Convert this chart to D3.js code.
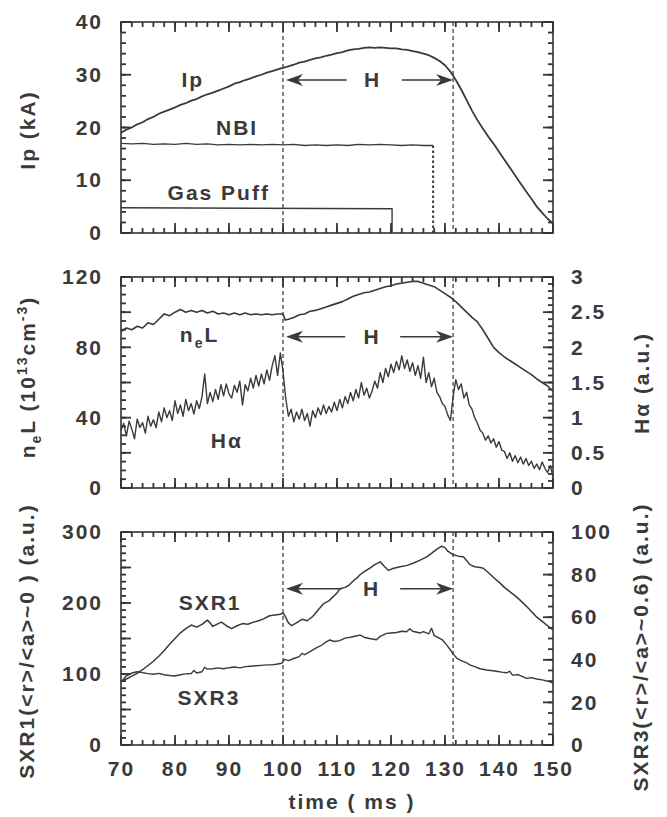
<!DOCTYPE html>
<html>
<head>
<meta charset="utf-8">
<script src="https://cdn.jsdelivr.net/npm/d3@7"></script>
<style>
body { margin: 0; background: #fff; }
text { font-family: "Liberation Sans", Arial, Helvetica, sans-serif; font-weight: bold;
       font-size: 21px; fill: #3a3a3a; letter-spacing: 2px; }
</style>
</head>
<body>
<svg id="viz" width="667" height="817"></svg>
<script>
// ---- data ----
var xTicks = [70, 80, 90, 100, 110, 120, 130, 140, 150];
var hMode = [100, 131.5];               // dashed lines, H-mode window

// panel 1 : Ip, NBI, gas puff (kA)
var ipT0 = 70, ipDt = 1;
var ipVal = [19.0,19.6,20.0,20.6,21.0,21.6,22.0,22.6,23.0,23.4,
             23.8,24.3,24.6,25.1,25.4,25.9,26.3,26.6,27.0,27.4,
             27.8,28.3,28.6,29.0,29.3,29.7,30.0,30.4,30.7,31.0,
             31.3,31.6,31.9,32.3,32.5,32.8,33.1,33.3,33.6,33.8,
             34.1,34.3,34.6,34.8,34.9,35.1,35.2,35.1,35.2,35.1,
             35.0,35.0,34.8,34.7,34.5,34.3,34.0,33.7,33.2,32.6,
             31.8,30.6,29.0,27.2,25.2,23.2,21.4,19.8,18.3,16.9,
             15.4,13.9,12.4,10.9,9.4,7.9,6.5,5.0,3.8,2.7,1.8];
var nbiTime = [70,72,74,76,78,80,82,84,86,88,90,92,94,96,98,100,102,104,106,108,110,112,114,116,118,120,122,124,126,127.8];
var nbiVal  = [17.0,16.9,17.0,16.8,16.9,16.8,17.0,16.8,16.9,16.7,16.8,16.7,16.8,16.7,16.8,16.7,16.8,16.6,16.7,16.6,16.7,16.6,16.8,16.7,16.8,16.7,16.6,16.7,16.6,16.6];
var gasTime = [70, 120.2];
var gasVal  = [4.8, 4.6];

// panel 2 : line density (left) and H-alpha (right)
var nlTime = [70,71,72,73,74,75,76,77,78,79,80,81,82,83,84,85,86,87,88,89,90,91,92,93,94,95,96,97,98,99,100,100.4,
              101,102,103,104,105,106,107,108,109,110,111,112,113,114,115,116,117,118,119,120,
              121,122,123,124,125,126,127,128,129,130,131,132,133,134,135,136,137,138,139,140,
              141,142,143,144,145,146,147,148,149,150];
var nlVal = [89,91,90,92,91,94,93,96,99,98,
             100,101.5,100,101,100,101,99.5,100.5,99,99.5,
             98.5,99.5,98.5,99.5,98.5,99,98.5,99,98.5,99,
             99,95.5,
             96,97,98.5,99,100.5,101,102,103,104,105,
             106,107.5,109,110,111,111.5,112.5,113.5,114.5,115,
             116,116.5,117,117.5,117.5,116.5,115.5,114.5,112.5,110.5,
             108.5,106,103,100,97,94.5,90,85,80,77,
             74.5,72.5,70.5,68.5,66.5,64.5,62,60,58,55];
var haT0 = 70, haDt = 0.5;
var haVal = [0.82,0.92,0.74,0.95,0.84,0.70,0.98,0.86,0.93,0.78,
             1.02,0.88,0.97,0.86,1.08,0.94,1.14,1.00,1.10,0.96,
             1.24,1.06,1.18,1.02,1.26,1.10,1.20,1.05,1.24,1.13,
             1.30,1.62,1.20,1.36,1.23,1.40,1.26,1.47,1.31,1.48,
             1.34,1.28,1.46,1.36,1.52,1.18,1.47,1.38,1.56,1.42,
             1.60,1.45,1.62,1.48,1.68,1.53,1.74,1.88,1.60,1.92,
             1.66,1.28,1.02,1.12,0.94,1.08,0.98,1.12,0.96,1.06,
             0.88,1.10,1.00,1.14,1.04,1.18,1.06,1.16,1.08,1.22,
             1.10,1.26,1.14,1.30,1.20,1.36,1.24,1.40,1.28,1.50,
             1.32,1.42,1.28,1.38,1.52,1.42,1.64,1.50,1.70,1.58,
             1.76,1.64,1.80,1.68,1.88,1.70,1.82,1.66,1.78,1.60,
             1.74,1.56,1.86,1.50,1.64,1.44,1.56,1.36,1.30,1.20,
             1.16,1.04,0.96,1.30,1.54,1.40,1.48,1.28,1.36,1.18,
             1.12,1.00,0.92,0.82,0.78,0.68,0.74,0.64,0.70,0.58,
             0.66,0.54,0.52,0.42,0.50,0.38,0.46,0.36,0.44,0.34,
             0.42,0.32,0.38,0.28,0.34,0.26,0.37,0.28,0.22,0.32,
             0.16];

// panel 3 : soft X-ray (SXR1 left axis, SXR3 right axis)
var sx1Time = [70,71,72,73,74,75,76,77,78,79,80,81,82,83,84,85,86,86.5,87,88,88.6,89.5,90.5,91.5,92.5,93.5,94.5,95.5,96.5,97.5,98.5,99.5,100,
               100.5,101,101.6,102.5,103.5,104.5,105.5,106.5,107.5,108.5,109.3,110,110.5,111.5,112.2,113,113.8,114.3,115,116.1,117,118,118.7,119.5,120.5,
               121.7,123,124.1,125.3,126.6,127.5,128.5,129.4,130,130.5,131.5,132.5,133.4,134,134.6,135.5,136.5,137.1,138,139,140.2,141,142,143,143.9,
               145,146,146.4,147,148,149,150];
var sx1Val = [90,93,97,101,106,112,118,125,133,142,150,158,164,169,166,170,176,172,167,171,173,168,164,168,171,170,173,175,178,182,183,184,186,
              180,172,168,172,177,175,181,190,199,203,209,214,220,222,225,231,236,240,244,249,254,258,252,246,249,
              251,253,256,260,265,270,276,280,278,273,268,266,265,260,254,251,250,249,243,236,228,222,216,210,204,
              196,188,185,180,174,168,162];
var sx3Time = [70,70.5,71,72,73,74,75,76,77,78,79,80,81,82,83,83.5,84,85,85.5,86,87,88,89,90,91,92,93,94,95,96,97,98,99,99.8,
               100.3,101,102,103,103.5,104,105,106,107,108,108.7,109.5,110.5,111.5,112.5,113.5,114.3,115,116,117.3,118,119.2,120,
               121,122,122.9,123.5,124,125.4,126,127,127.5,128,128.5,129.5,130.3,131,131.5,132.2,133,134,134.6,135.5,136.5,137.7,
               138.5,139.5,140.5,141.4,142,142.5,143.5,144.5,145.1,146,147,148,149.4,150];
var sx3Val = [29.5,31,32.5,33.8,34.4,34,33.5,33.2,33.6,33,32.6,32.4,33,33.4,33.6,35,33.8,34.4,36.5,35.6,35.8,36.2,35.8,36.3,36.6,36.2,36.8,37,37.2,37.4,37.6,37.6,38,38.4,
              40.2,39.6,40.6,41.5,43,42.4,43.8,45.4,46.6,48.4,49.3,48.6,49,50.2,50.6,51.2,51.6,50.6,50,49.4,51,52.4,52.6,
              52.8,53.4,53.2,54.6,53.4,52.6,53.2,52.2,54.8,51.4,50.8,49.4,47,44.6,42.8,40.7,39.6,38.6,37.6,36.8,35.8,35.2,
              35,34.6,34.2,33.9,34.6,32.8,33,32,31.3,31.6,31,30.6,29.7,29.2];

// ---- drawing ----
var svg = d3.select("#viz");
var ink = "#3a3a3a";
var x = d3.scaleLinear().domain([70, 150]).range([121, 553]);
var xMinor = d3.range(70, 151, 2);

var p1 = { top: 22, bottom: 233 },
    p2 = { top: 277, bottom: 488 },
    p3 = { top: 532, bottom: 745 };

var yIp  = d3.scaleLinear().domain([0, 40]).range([p1.bottom, p1.top]);
var yNl  = d3.scaleLinear().domain([0, 120]).range([p2.bottom, p2.top]);
var yHa  = d3.scaleLinear().domain([0, 3]).range([p2.bottom, p2.top]);
var ySx1 = d3.scaleLinear().domain([0, 300]).range([p3.bottom, p3.top]);
var ySx3 = d3.scaleLinear().domain([0, 100]).range([p3.bottom, p3.top]);

function clean(g) { g.selectAll(".domain, .tick line").remove(); }

// inward tick marks along a horizontal edge
function xMarks(yEdge, dir, vals, len) {
    svg.append("g").selectAll("line").data(vals).enter().append("line")
        .attr("x1", function (d) { return x(d); }).attr("x2", function (d) { return x(d); })
        .attr("y1", yEdge).attr("y2", yEdge + dir * len)
        .attr("stroke", "#333").attr("stroke-width", 1.8);
}

// inward tick marks along a vertical edge
function yMarks(scale, xEdge, dir, vals, len) {
    svg.append("g").selectAll("line").data(vals).enter().append("line")
        .attr("x1", xEdge).attr("x2", xEdge + dir * len)
        .attr("y1", function (d) { return scale(d); }).attr("y2", function (d) { return scale(d); })
        .attr("stroke", "#333").attr("stroke-width", 1.8);
}

function xAxes(p, withLabels) {
    xMarks(p.bottom, -1, xTicks, 10);
    xMarks(p.bottom, -1, xMinor, 5);
    xMarks(p.top, 1, xTicks, 10);
    xMarks(p.top, 1, xMinor, 5);
    if (withLabels) {
        svg.append("g").attr("transform", "translate(0," + p.bottom + ")")
            .call(d3.axisBottom(x).tickValues(xTicks).tickSize(0).tickPadding(16).tickFormat(d3.format("d")))
            .call(clean);
    }
}

function yAxis(scale, side, labels, major, minor) {
    var left = side == "left";
    var xpos = left ? x.range()[0] : x.range()[1];
    yMarks(scale, xpos, left ? 1 : -1, major, 10);
    yMarks(scale, xpos, left ? 1 : -1, minor, 5);
    if (labels.length) {
        svg.append("g").attr("transform", "translate(" + xpos + ",0)")
            .call((left ? d3.axisLeft : d3.axisRight)(scale).tickValues(labels).tickSize(0)
                  .tickPadding(18).tickFormat(String))
            .call(clean);
    }
}

function frame(p) {
    svg.append("rect")
        .attr("x", x.range()[0]).attr("y", p.top)
        .attr("width", x.range()[1] - x.range()[0]).attr("height", p.bottom - p.top)
        .attr("fill", "none").attr("stroke", "#333").attr("stroke-width", 1.6);
}

function dashes(p) {
    svg.selectAll(null).data(hMode).enter().append("line")
        .attr("x1", function (d) { return x(d); }).attr("x2", function (d) { return x(d); })
        .attr("y1", p.top).attr("y2", p.bottom)
        .attr("stroke", "#444").attr("stroke-width", 1.3).attr("stroke-dasharray", "4,3");
}

function curve(ts, vs, yScale, width) {
    var pts = vs.map(function (v, i) { return [ts[i], v]; });
    svg.append("path").datum(pts)
        .attr("d", d3.line().x(function (d) { return x(d[0]); }).y(function (d) { return yScale(d[1]); }))
        .attr("fill", "none").attr("stroke", ink).attr("stroke-width", width)
        .attr("stroke-linejoin", "round");
}

function grid(t0, dt, n) { return d3.range(n).map(function (i) { return t0 + i * dt; }); }

function label(txt, xv, yv, anchor) {
    return svg.append("text").attr("x", xv).attr("y", yv)
        .attr("text-anchor", anchor || "middle").attr("dy", "0.35em").text(txt);
}

function vlabel(cx, cy) {
    return svg.append("text").attr("transform", "translate(" + cx + "," + cy + ") rotate(-90)")
        .attr("text-anchor", "middle").attr("dy", "0.35em");
}

function hArrow(yScale, yv, leftEnd, rightStart, hAt) {
    var y = yScale(yv), a = x(hMode[0]) + 3, b = x(hMode[1]);
    svg.append("line").attr("x1", a + 10).attr("x2", x(leftEnd)).attr("y1", y).attr("y2", y)
        .attr("stroke", ink).attr("stroke-width", 1.5);
    svg.append("line").attr("x1", x(rightStart)).attr("x2", b - 10).attr("y1", y).attr("y2", y)
        .attr("stroke", ink).attr("stroke-width", 1.5);
    svg.append("path").attr("fill", ink)
        .attr("d", "M" + a + "," + y + "L" + (a + 17) + "," + (y - 6) + "L" + (a + 12) + "," + y +
                   "L" + (a + 17) + "," + (y + 6) + "Z");
    svg.append("path").attr("fill", ink)
        .attr("d", "M" + b + "," + y + "L" + (b - 17) + "," + (y - 6) + "L" + (b - 12) + "," + y +
                   "L" + (b - 17) + "," + (y + 6) + "Z");
    label("H", x(hAt), y);
}

// panel 1
frame(p1); xAxes(p1, false);
yAxis(yIp, "left", [0, 10, 20, 30, 40], [0, 10, 20, 30, 40], d3.range(0, 41, 2));
yAxis(yIp, "right", [], [0, 10, 20, 30, 40], d3.range(0, 41, 2));
dashes(p1);
curve(grid(ipT0, ipDt, ipVal.length), ipVal, yIp, 1.8);
curve(nbiTime, nbiVal, yIp, 1.4);
curve(gasTime.concat([gasTime[1]]), gasVal.concat([0]), yIp, 1.4);
svg.append("line")
    .attr("x1", x(nbiTime[nbiTime.length - 1])).attr("x2", x(nbiTime[nbiTime.length - 1]))
    .attr("y1", yIp(nbiVal[nbiVal.length - 1])).attr("y2", yIp(0))
    .attr("stroke", ink).attr("stroke-width", 2).attr("stroke-dasharray", "2.5,2.5");
label("Ip", x(83.3), yIp(29));
label("NBI", x(91.5), yIp(19.9));
label("Gas Puff", x(88.1), yIp(7.6));
hArrow(yIp, 29, 111.8, 122, 116.6);
vlabel(28, 130).text("Ip (kA)");

// panel 2
frame(p2); xAxes(p2, false);
yAxis(yNl, "left", [0, 40, 80, 120], d3.range(0, 121, 20), d3.range(0, 121, 5));
yAxis(yHa, "right", [0, 0.5, 1, 1.5, 2, 2.5, 3], [0, 0.5, 1, 1.5, 2, 2.5, 3], d3.range(0, 3.01, 0.1));
dashes(p2);
curve(nlTime, nlVal, yNl, 1.6);
curve(grid(haT0, haDt, haVal.length), haVal, yHa, 1.4);
var nel = svg.append("text").attr("x", x(80.9)).attr("y", yNl(87)).attr("dy", "0.35em");
nel.append("tspan").text("n");
nel.append("tspan").attr("font-size", "14px").attr("dy", "6").text("e");
nel.append("tspan").attr("dy", "-6").text("L");
label("H\u03b1", x(89.6), yNl(27));
hArrow(yNl, 86, 111.5, 121.7, 116.5);
var t2 = vlabel(28, 377);
t2.append("tspan").text("n");
t2.append("tspan").attr("font-size", "14px").attr("dy", "6").text("e");
t2.append("tspan").attr("dy", "-6").text("L (10");
t2.append("tspan").attr("font-size", "14px").attr("dy", "-8").text("13");
t2.append("tspan").attr("dy", "8").text("cm");
t2.append("tspan").attr("font-size", "14px").attr("dy", "-8").text("-3");
t2.append("tspan").attr("dy", "8").text(")");
vlabel(642, 383).text("H\u03b1 (a.u.)");

// panel 3
frame(p3); xAxes(p3, true);
yAxis(ySx1, "left", [0, 100, 200, 300], d3.range(0, 301, 50), d3.range(0, 301, 10));
yAxis(ySx3, "right", [0, 20, 40, 60, 80, 100], d3.range(0, 101, 20), d3.range(0, 101, 5));
dashes(p3);
curve(sx1Time, sx1Val, ySx1, 1.5);
curve(sx3Time, sx3Val, ySx3, 1.4);
label("SXR1", x(86.5), ySx1(200));
label("SXR3", x(86.3), ySx1(66));
hArrow(ySx1, 220, 110.9, 121.7, 116.4);
vlabel(27, 641).text("SXR1(<r>/<a>~0  )  (a.u.)");
vlabel(641, 647).text("SXR3(<r>/<a>~0.6) (a.u.)");
svg.append("text").attr("x", 352).attr("y", 809).attr("text-anchor", "middle").text("time ( ms )");
</script>
</body>
</html>
